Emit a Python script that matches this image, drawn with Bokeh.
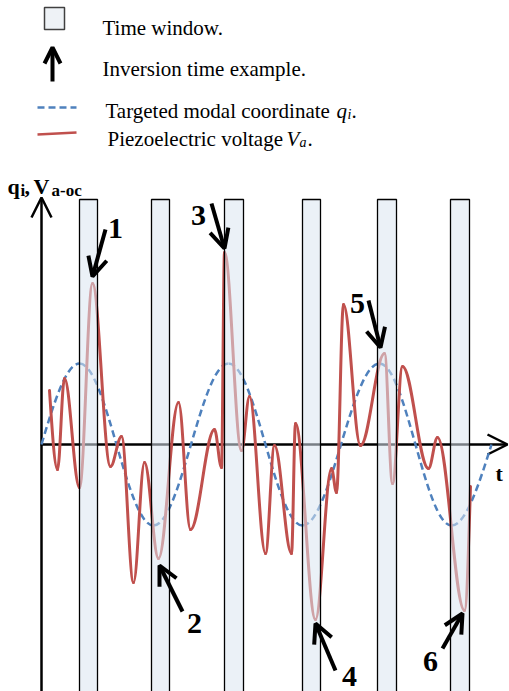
from bokeh.plotting import figure
from bokeh.models import Range1d, Arrow, OpenHead
from bokeh.core.properties import value
from bokeh.embed import file_html
from bokeh.resources import INLINE

# ---------------- data (t: time, v: amplitude; axis origin at 0,0) ----------------
window_start = [38, 110, 183, 261, 336, 409]
window_end = [56, 128, 202, 279, 355, 428]
window_top = 245

# targeted modal coordinate q_i : zero crossings / extrema
q_t = [0, 38, 112, 187, 261, 338, 410, 450]
q_v = [0, 81, -81, 81, -81, 81, -81, 0]

# piezoelectric voltage V_a : start, extrema, end
va_t = [8, 16, 23, 38, 51, 69, 80, 92, 103, 117, 137, 149, 173, 180, 183, 200, 208,
        224, 233, 250, 254, 274, 290, 295, 302, 319, 343, 351, 361, 387, 396, 423, 429]
va_v = [54, -25, 66, -43, 161, -22, 8, -138, -18, -114, 42, -85, 15, -23, 192, -6, 48,
        -109, -1, -109, 21, -175, -24, -48, 140, -1, 91, -39, 78, -24, 7, -166, -42]

# inversion time examples: label, index of the extremum in V_a
inv_labels = ["1", "2", "3", "4", "5", "6"]
inv_index = [4, 9, 14, 21, 26, 31]

RED = "#C0504D"
BLUE = "#4F81BD"
SERIF = value("Liberation Serif")

p = figure(width=509, height=691, x_range=Range1d(-41, 468), y_range=Range1d(-247, 444),
           x_axis_type=None, y_axis_type=None, toolbar_location=None,
           output_backend="svg", min_border=0, outline_line_color=None,
           background_fill_color="white", border_fill_color="white")


def bez(ts, vs, start_free=False, end_free=False, quarter=False):
    x0, y0, x1, y1, cx0, cy0, cx1, cy1 = [], [], [], [], [], [], [], []
    k = 0.3634
    n = len(ts)
    for i in range(n - 1):
        a, b, c, d = ts[i], vs[i], ts[i + 1], vs[i + 1]
        dx, dy = c - a, d - b
        p0x, p0y = a + k * dx, b
        p1x, p1y = c - k * dx, d
        if i == 0 and (start_free or quarter):
            if quarter:
                p0x, p0y = a + 0.33 * dx, b + 0.52 * dy
                p1x = c - 0.35 * dx
            else:
                p0x, p0y = a + 0.33 * dx, b + 0.5 * dy
        if i == n - 2 and (end_free or quarter):
            if quarter:
                p1x, p1y = c - 0.33 * dx, d - 0.52 * dy
                p0x = a + 0.35 * dx
            else:
                p1x, p1y = c - 0.33 * dx, d - 0.5 * dy
        x0.append(a); y0.append(b); x1.append(c); y1.append(d)
        cx0.append(p0x); cy0.append(p0y); cx1.append(p1x); cy1.append(p1y)
    return dict(x0=x0, y0=y0, x1=x1, y1=y1, cx0=cx0, cy0=cy0, cx1=cx1, cy1=cy1)


# axes
p.add_layout(Arrow(x_start=0, y_start=-260, x_end=0, y_end=247, line_width=2.5,
                   line_color="black", level="underlay",
                   end=OpenHead(size=20, line_width=2.5, line_color="black")))
p.add_layout(Arrow(x_start=-1, y_start=0, x_end=466, y_end=0, line_width=2.5,
                   line_color="black", level="underlay",
                   end=OpenHead(size=20, line_width=2.5, line_color="black")))

# curves
p.bezier(**bez(q_t, q_v, quarter=True), line_color=BLUE, line_width=2.5, line_dash="7 4")
p.bezier(**bez(va_t, va_v, start_free=True, end_free=True), line_color=RED,
         line_width=3, line_cap="round")

# time windows (semi transparent, over the curves)
p.quad(left=window_start, right=window_end, top=[window_top] * len(window_start),
       bottom=[-300] * len(window_start), fill_color="#DAE5F0", fill_alpha=0.55,
       line_color="black", line_width=1.3)

# inversion arrows + numbers
tip_gap = [(0, 7), (1, -7), (0, 4), (0, -4), (-4, 6), (-2, -3)]
tail_off = [(13, 47), (23, -46), (-13, 45), (20, -47), (-12, 47), (-20, -35)]
num_off = [(23, 55), (36, -65), (-26, 37), (34, -57), (-27, 50), (-34, -51)]
for lab, idx, g, tl, no in zip(inv_labels, inv_index, tip_gap, tail_off, num_off):
    tx, ty = va_t[idx] + g[0], va_v[idx] + g[1]
    p.add_layout(Arrow(x_start=tx + tl[0], y_start=ty + tl[1], x_end=tx, y_end=ty,
                       line_width=4, line_color="black",
                       end=OpenHead(size=19, line_width=4, line_color="black")))
    p.text(x=[va_t[idx] + no[0]], y=[va_v[idx] + no[1]], text=[lab], text_font=SERIF,
           text_font_size="30px", text_font_style="bold", text_align="center",
           text_baseline="alphabetic", text_color="black")

# axis labels
p.text(x=[-34, -8], y=[258, 258], text=["q", "V"], text_font=SERIF, text_font_size="22px",
       text_font_style="bold", text_baseline="alphabetic", text_color="black")
p.text(x=[-17], y=[258], text=[","], text_font=SERIF, text_font_size="22px",
       text_font_style="bold", text_baseline="alphabetic", text_color="black")
p.text(x=[-21, 10], y=[254, 254], text=["i", "a-oc"], text_font=SERIF, text_font_size="17px",
       text_font_style="bold", text_baseline="alphabetic", text_color="black")
p.text(x=[454], y=[-29], text=["t"], text_font=SERIF, text_font_size="22px",
       text_font_style="bold", text_baseline="alphabetic", text_color="black")

# legend
p.quad(left=[3], right=[23], top=[437], bottom=[415], fill_color="#EEF2F6",
       line_color="#404040", line_width=1.5)
p.add_layout(Arrow(x_start=11, y_start=363, x_end=11, y_end=397, line_width=4,
                   line_color="black", end=OpenHead(size=16, line_width=4, line_color="black")))
p.line(x=[-4, 35], y=[337, 337], line_color=BLUE, line_width=2.5, line_dash="7 4")
p.line(x=[-4, 35], y=[310, 312], line_color=RED, line_width=2.5)

p.text(x=[61, 61, 64, 66], y=[417, 376, 334, 306],
       text=["Time window.", "Inversion time example.", "Targeted modal coordinate ",
             "Piezoelectric voltage "],
       text_font=SERIF, text_font_size="21px", text_baseline="alphabetic", text_color="black")
p.text(x=[295, 245], y=[334, 306], text=["q", "V"], text_font=SERIF, text_font_size="21px",
       text_font_style="italic", text_baseline="alphabetic", text_color="black")
p.text(x=[306, 258], y=[330, 302], text=["i", "a"], text_font=SERIF, text_font_size="14px",
       text_font_style="italic", text_baseline="alphabetic", text_color="black")
p.text(x=[310, 266], y=[334, 306], text=[".", "."], text_font=SERIF, text_font_size="21px",
       text_baseline="alphabetic", text_color="black")

open("out.html", "w").write(file_html(p, INLINE))
